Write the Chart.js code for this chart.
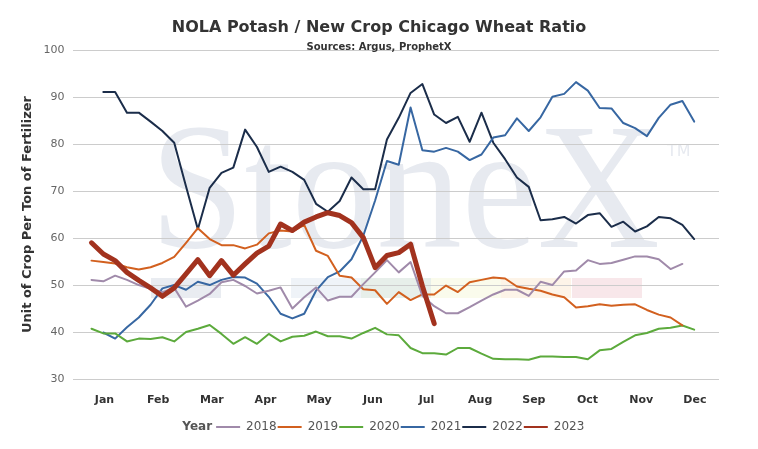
<!DOCTYPE html>
<html>
<head>
<meta charset="utf-8">
<script src="https://cdn.jsdelivr.net/npm/chart.js@4.4.1/dist/chart.umd.min.js"></script>
<style>
  html, body { margin: 0; padding: 0; background: #fff; }
</style>
</head>
<body>
<canvas id="chart" width="758" height="449"></canvas>
<script>
// month labels under the week axis
const months = ["Jan", "Feb", "Mar", "Apr", "May", "Jun", "Jul", "Aug", "Sep", "Oct", "Nov", "Dec"];
const years = ["2018", "2019", "2020", "2021", "2022", "2023"];

// first week of each series
const startWeeks = [1, 1, 1, 2, 2, 1];

// weekly ratio
const y2018 = [51.1, 50.8, 52.0, 51.1, 50.0, 49.2, 48.5, 49.4, 45.4, 46.7,
  48.1, 50.6, 51.1, 49.8, 48.2, 48.8, 49.5, 45.0, 47.4, 49.5,
  46.7, 47.5, 47.5, 50.2, 52.7, 55.3, 52.7, 54.9, 47.7, 45.5,
  44.0, 44.0, 45.3, 46.7, 48.0, 49.0, 49.0, 47.7, 50.7, 50.0,
  52.9, 53.1, 55.3, 54.5, 54.7, 55.4, 56.1, 56.1, 55.5, 53.4, 54.5];
const y2019 = [55.2, 54.9, 54.6, 53.8, 53.3, 53.8, 54.7, 56.0, 59.0, 62.1,
  59.8, 58.5, 58.5, 57.8, 58.6, 61.0, 61.6, 61.4, 62.8, 57.3,
  56.2, 52.0, 51.6, 49.1, 48.9, 46.0, 48.5, 46.8, 48.0, 48.0,
  49.9, 48.5, 50.6, 51.1, 51.6, 51.4, 49.7, 49.2, 48.8, 48.0,
  47.4, 45.2, 45.5, 45.9, 45.6, 45.8, 45.9, 44.7, 43.7, 43.1, 41.4];
const y2020 = [40.7, 39.7, 39.7, 38.0, 38.6, 38.5, 38.9, 38.0, 40.0, 40.7,
  41.5, 39.6, 37.5, 38.9, 37.5, 39.6, 38.0, 39.0, 39.2, 40.1,
  39.1, 39.1, 38.6, 39.8, 40.9, 39.5, 39.3, 36.6, 35.5, 35.5,
  35.2, 36.6, 36.6, 35.4, 34.3, 34.2, 34.2, 34.1, 34.8, 34.8,
  34.7, 34.7, 34.2, 36.1, 36.4, 37.9, 39.3, 39.8, 40.7, 40.9, 41.4, 40.5];
const y2021 = [39.9, 38.6, 41.0, 43.1, 45.8, 49.3, 50.0, 49.0, 50.7,
  50.0, 51.1, 51.7, 51.6, 50.3, 47.5, 43.9, 42.9, 43.9, 48.8,
  51.7, 52.9, 55.5, 60.5, 68.0, 76.4, 75.6, 87.8, 78.7, 78.4,
  79.2, 78.4, 76.6, 77.8, 81.4, 81.9, 85.5, 82.8, 85.7, 90.1,
  90.7, 93.2, 91.4, 87.7, 87.6, 84.5, 83.4, 81.7, 85.6, 88.4, 89.2, 84.8];
const y2022 = [91.1, 91.1, 86.7, 86.7, 84.8, 82.8, 80.3, 71.0, 61.9,
  70.7, 73.9, 75.0, 83.1, 79.4, 74.1, 75.2, 74.1, 72.4, 67.3,
  65.6, 67.9, 72.9, 70.4, 70.4, 81.0, 85.6, 90.9, 92.8, 86.3,
  84.5, 85.8, 80.5, 86.7, 80.3, 76.8, 72.9, 70.9, 63.8, 64.0,
  64.5, 63.1, 64.9, 65.3, 62.4, 63.5, 61.4, 62.5, 64.5, 64.2, 62.8, 59.8];
const y2023 = [59.0, 56.6, 55.2, 52.7, 51.0, 49.4, 47.6, 49.4, 52.4, 55.4,
  52.0, 55.2, 52.1, 54.5, 56.8, 58.3, 63.0, 61.6, 63.4, 64.5,
  65.4, 64.8, 63.3, 60.1, 53.7, 56.3, 56.9, 58.7, 49.8, 41.8];

const seriesValues = [y2018, y2019, y2020, y2021, y2022, y2023];
const colors = ["#a08aaa", "#d2601f", "#5caa3c", "#3767a2", "#1b2d4a", "#a2321e"];
const widths = [2, 2, 2, 2, 2, 5];

// StoneX watermark behind the grid
const watermark = {
  id: "watermark",
  beforeDraw(chart) {
    const ctx = chart.ctx;
    ctx.save();
    const bands = [
      [151, "#e9ecf1"], [291, "#eff3f8"], [361, "#e7efea"],
      [431, "#fafbec"], [501, "#fdf4e8"], [572, "#f8e7ea"]
    ];
    bands.forEach(([x, c]) => {
      ctx.fillStyle = c;
      ctx.fillRect(x, 278, 70, 20);
    });
    ctx.fillStyle = "#e7eaf0";
    ctx.font = '180px "Liberation Serif", "DejaVu Serif", serif';
    const w = ctx.measureText("StoneX").width;
    ctx.translate(150, 247);
    ctx.scale(510 / w, 1);
    ctx.textBaseline = "alphabetic";
    ctx.fillText("StoneX", 0, 0);
    ctx.restore();
    ctx.save();
    ctx.fillStyle = "#e7eaf0";
    ctx.font = '16px "DejaVu Sans"';
    ctx.fillText("TM", 667, 152);
    ctx.restore();
  }
};

// bold "Year" in front of the legend items
const legendTitle = {
  id: "legendTitle",
  afterDraw(chart) {
    const box = chart.legend.legendHitBoxes[1];
    if (!box) return;
    const ctx = chart.ctx;
    ctx.save();
    ctx.font = 'bold 12px "DejaVu Sans"';
    ctx.fillStyle = "#555";
    ctx.textAlign = "right";
    ctx.textBaseline = "middle";
    ctx.fillText("Year", box.left - 4, box.top + box.height / 2);
    ctx.restore();
  }
};

Chart.defaults.font.family = '"DejaVu Sans", Verdana, sans-serif';

const datasets = years.map((year, i) => ({
  label: year,
  data: seriesValues[i].map((v, k) => ({ x: startWeeks[i] + k, y: v })),
  borderColor: colors[i],
  backgroundColor: colors[i],
  borderWidth: widths[i],
  borderJoinStyle: "round",
  borderCapStyle: "round",
  pointRadius: 0,
  tension: 0,
  order: i === 5 ? 0 : 1
}));

new Chart(document.getElementById("chart"), {
  type: "line",
  data: { datasets },
  plugins: [watermark, legendTitle],
  options: {
    responsive: false,
    animation: false,
    layout: { padding: { left: 7, right: 7, top: 0, bottom: 6 } },
    plugins: {
      title: {
        display: true,
        text: "NOLA Potash / New Crop Chicago Wheat Ratio",
        color: "#333",
        font: { size: 16, weight: "bold" },
        padding: { top: 18, bottom: 0 }
      },
      subtitle: {
        display: true,
        text: "Sources: Argus, ProphetX",
        color: "#333",
        font: { size: 10, weight: "bold" },
        padding: { top: 4, bottom: -3 }
      },
      legend: {
        position: "bottom",
        onClick: () => {},
        labels: {
          boxWidth: 24,
          boxHeight: 2,
          padding: 1,
          color: "#555",
          font: { size: 12 },
          generateLabels(chart) {
            const items = Chart.defaults.plugins.legend.labels.generateLabels(chart)
              .sort((a, b) => a.datasetIndex - b.datasetIndex);
            items.forEach(it => {
              it.fillStyle = it.strokeStyle;
              it.lineWidth = 0;
            });
            // invisible spacer that leaves room for the bold "Year"
            return [{
              text: "   ",
              fillStyle: "rgba(0,0,0,0)",
              strokeStyle: "rgba(0,0,0,0)",
              fontColor: "rgba(0,0,0,0)",
              lineWidth: 0,
              hidden: false,
              datasetIndex: -1
            }].concat(items);
          }
        }
      },
      tooltip: { enabled: false }
    },
    scales: {
      x: {
        type: "linear",
        display: false,
        min: -0.6,
        max: 54.1
      },
      m: {
        type: "linear",
        position: "bottom",
        min: -0.595,
        max: 11.45,
        ticks: {
          stepSize: 1,
          autoSkip: false,
          maxRotation: 0,
          includeBounds: false,
          padding: 7,
          color: "#333",
          font: { size: 11, weight: "bold" },
          callback: v => months[v]
        },
        grid: { display: false },
        border: { display: false },
        afterFit: s => { s.height = 41; }
      },
      // empty right-hand margin, so the titles centre on the whole canvas
      r: {
        type: "linear",
        position: "right",
        ticks: { display: false },
        grid: { display: false },
        border: { display: false },
        afterFit: s => { s.width = 32; }
      },
      y: {
        min: 30,
        max: 100,
        ticks: { stepSize: 10, color: "#666", font: { size: 11 }, padding: 8 },
        grid: { color: "#cccccc", drawTicks: false },
        border: { display: false },
        title: {
          display: true,
          text: "Unit of Crop Per Ton of Fertilizer",
          color: "#333",
          font: { size: 13, weight: "bold" },
          padding: { top: 13, bottom: 0 }
        }
      }
    }
  }
});
</script>
</body>
</html>
